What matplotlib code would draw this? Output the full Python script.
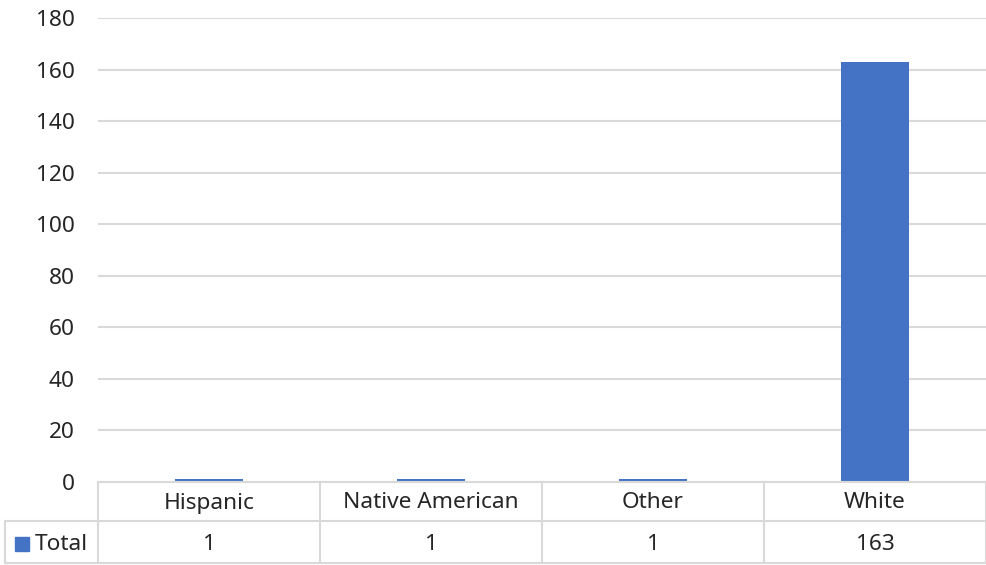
import matplotlib
matplotlib.use("Agg")
import matplotlib.pyplot as plt
from matplotlib.lines import Line2D
from matplotlib.patches import Rectangle

categories = ["Hispanic", "Native American", "Other", "White"]
values = [1, 1, 1, 163]
series_name = "Total"
yticks = [0, 20, 40, 60, 80, 100, 120, 140, 160, 180]

W, H = 987, 565
BAR = "#4472C4"
GRID = "#d9d9d9"
TXT = "#262626"
FS = 16.3
plt.rcParams['font.family'] = ['Noto Sans', 'DejaVu Sans']

fig = plt.figure(figsize=(W / 100, H / 100), dpi=100)

x0, x1 = 98, 986
y_top, y_zero = 18, 482
ax = fig.add_axes([x0 / W, 1 - y_zero / H, (x1 - x0) / W, (y_zero - y_top) / H])
n = len(categories)
ax.bar(range(n), values, width=0.31, color=BAR, zorder=3)
ax.set_xlim(-0.5, n - 0.5)
ax.set_ylim(0, 180)
ax.set_yticks(yticks)
ax.set_yticklabels([str(t) for t in yticks], fontsize=FS, color=TXT)
ax.tick_params(axis='y', length=0, pad=17)
ax.set_xticks([])
for s in ax.spines.values():
    s.set_visible(False)
ax.grid(axis='y', color=GRID, linewidth=1.5, zorder=0)

# data table
def fx(px):
    return px / W

def fy(py):
    return 1 - py / H

row1_top, row2_top, row_bot = 482, 521, 563
left = 5
col_w = (x1 - x0) / n
lw = 1.5
lines = []
lines.append(((x0, x1), (row1_top, row1_top)))
lines.append(((left, x1), (row2_top, row2_top)))
lines.append(((left, x1), (row_bot, row_bot)))
lines.append(((left, left), (row2_top, row_bot)))
for i in range(n + 1):
    xx = x0 + i * col_w
    lines.append(((xx, xx), (row1_top, row_bot)))
for (xs, ys) in lines:
    fig.add_artist(Line2D([fx(xs[0]), fx(xs[1])], [fy(ys[0]), fy(ys[1])],
                          color=GRID, linewidth=lw))

for i, (c, v) in enumerate(zip(categories, values)):
    cx = x0 + (i + 0.5) * col_w
    fig.text(fx(cx), fy(503), c, ha='center', va='center',
             fontsize=FS, color=TXT)
    fig.text(fx(cx), fy(545), str(v), ha='center', va='center',
             fontsize=FS, color=TXT)

fig.add_artist(Rectangle((fx(15), fy(551)), 14 / W, 14 / H, color=BAR,
                         transform=fig.transFigure))
fig.text(fx(35), fy(545), series_name, ha='left', va='center',
         fontsize=FS, color=TXT)

fig.savefig("out.png", dpi=100)
